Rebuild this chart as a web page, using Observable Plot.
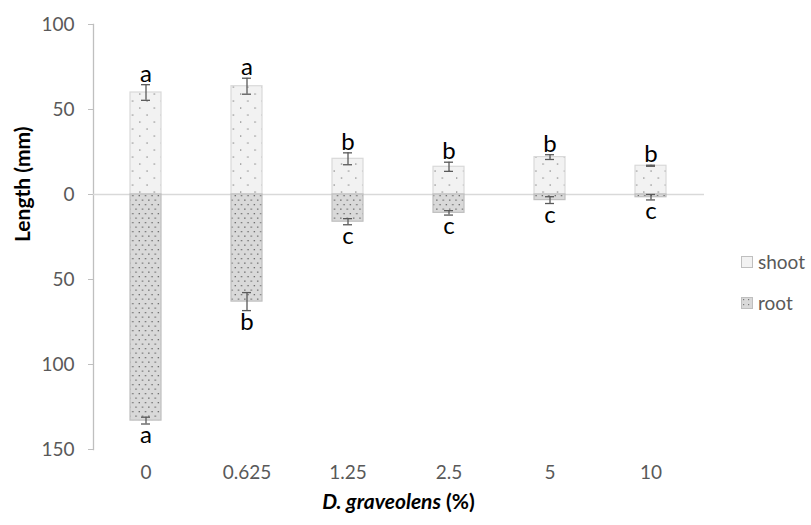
<!DOCTYPE html>
<html>
<head>
<meta charset="utf-8">
<script src="https://cdn.jsdelivr.net/npm/d3@7"></script>
<script src="https://cdn.jsdelivr.net/npm/@observablehq/plot@0.6"></script>
<style>
  html, body { margin: 0; padding: 0; background: #fff; }
  body { font-family: Lato, "Open Sans", sans-serif; }
  #wrap { position: relative; width: 811px; height: 525px; overflow: hidden; }
  #xlabel { position: absolute; left: 93px; width: 611px; top: 488px; text-align: center;
            font-weight: bold; font-size: 21px; color: #000; line-height: 26px; }
  #xlabel i { font-style: italic; }
  #legend { position: absolute; left: 741px; top: 241px; font-size: 19px; color: #595959; }
  .item { display: flex; align-items: center; height: 41px; }
  .item svg { margin-right: 5px; }
</style>
</head>
<body>
<svg width="0" height="0" style="position:absolute">
  <defs>
    <pattern id="shootPat" patternUnits="userSpaceOnUse" width="14.4" height="14">
      <rect width="14.4" height="14" fill="#f2f2f2"></rect>
      <rect x="2.4" y="2.4" width="1.3" height="1.3" fill="#8a8a8a"></rect>
      <rect x="9.6" y="9.4" width="1.3" height="1.3" fill="#8a8a8a"></rect>
    </pattern>
    <pattern id="rootPat" patternUnits="userSpaceOnUse" width="6.4" height="9">
      <rect width="6.4" height="9" fill="#d9d9d9"></rect>
      <rect x="1" y="1.5" width="1.3" height="1.3" fill="#666666"></rect>
      <rect x="4.2" y="6" width="1.3" height="1.3" fill="#666666"></rect>
    </pattern>
    <pattern id="rootLegPat" patternUnits="userSpaceOnUse" width="5" height="5">
      <rect width="5" height="5" fill="#d9d9d9"></rect>
      <rect x="2" y="2" width="1.2" height="1.2" fill="#7a7a7a"></rect>
    </pattern>
  </defs>
</svg>
<div id="wrap">
  <div id="chart"></div>
  <div id="xlabel"><i>D. graveolens</i> (%)</div>
  <div id="legend"></div>
</div>
<script>
// ---- data ----
const concentrations = ["0", "0.625", "1.25", "2.5", "5", "10"];
const shootMean = [60, 63.7, 21, 16.3, 22, 16.9];
const shootErr = [4.6, 4.7, 3.5, 2.7, 1.4, 0.3];
const shootLetters = ["a", "a", "b", "b", "b", "b"];
const rootMean = [133, 63, 16, 10.8, 3.3, 1.6];
const rootErr = [2, 5.3, 1.8, 1.3, 2, 1.6];
const rootLetters = ["a", "b", "c", "c", "c", "c"];
const yTicks = [100, 50, 0, -50, -100, -150];
const seriesNames = ["shoot", "root"];

const shoot = concentrations.map((c, i) => ({c, v: shootMean[i], e: shootErr[i], l: shootLetters[i]}));
const root = concentrations.map((c, i) => ({c, v: -rootMean[i], e: rootErr[i], l: rootLetters[i]}));

const errColor = "#595959";

const chart = Plot.plot({
  width: 811,
  height: 487,
  marginLeft: 93,
  marginRight: 107,
  marginTop: 24,
  marginBottom: 38,
  style: {fontFamily: "Lato, 'Open Sans', sans-serif", fontSize: "19px", color: "#595959", background: "#fff", overflow: "visible"},
  x: {domain: concentrations, paddingInner: 0.69, paddingOuter: 0.345, label: null},
  y: {domain: [-150, 100], label: null},
  marks: [
    Plot.frame({anchor: "left", stroke: "#bfbfbf", strokeWidth: 1.3}),
    Plot.ruleY([0], {stroke: "#d9d9d9", strokeWidth: 1.5}),
    Plot.axisY({ticks: yTicks, tickSize: 5, tickPadding: 14, tickFormat: d => Math.abs(d), stroke: "#bfbfbf", fill: "#595959", fontSize: 19, label: null}),
    Plot.axisX({tickSize: 0, tickPadding: 16, fill: "#595959", fontSize: 19, label: null}),
    Plot.barY(shoot, {x: "c", y1: 0, y2: "v", fill: "url(#shootPat)", stroke: "#d9d9d9", strokeWidth: 1.2}),
    Plot.barY(root, {x: "c", y1: 0, y2: "v", fill: "url(#rootPat)", stroke: "#bfbfbf", strokeWidth: 1.2}),
    Plot.ruleX(shoot, {x: "c", y1: d => d.v - d.e, y2: d => d.v + d.e, stroke: errColor, strokeWidth: 1.3}),
    Plot.tickY(shoot, {x: "c", y: d => d.v + d.e, insetLeft: 11, insetRight: 11, stroke: errColor, strokeWidth: 1.3}),
    Plot.tickY(shoot, {x: "c", y: d => d.v - d.e, insetLeft: 11, insetRight: 11, stroke: errColor, strokeWidth: 1.3}),
    Plot.ruleX(root, {x: "c", y1: d => d.v - d.e, y2: d => d.v + d.e, stroke: errColor, strokeWidth: 1.3}),
    Plot.tickY(root, {x: "c", y: d => d.v + d.e, insetLeft: 11, insetRight: 11, stroke: errColor, strokeWidth: 1.3}),
    Plot.tickY(root, {x: "c", y: d => d.v - d.e, insetLeft: 11, insetRight: 11, stroke: errColor, strokeWidth: 1.3}),
    Plot.text(shoot, {x: "c", y: d => d.v + d.e, text: "l", lineAnchor: "bottom", dy: -3, fontSize: 24, fill: "#000"}),
    Plot.text(root, {x: "c", y: d => d.v - d.e, text: "l", lineAnchor: "top", dy: 2, fontSize: 24, fill: "#000"}),
    Plot.text(["Length (mm)"], {frameAnchor: "left", rotate: -90, dx: -70, dy: 5, fontWeight: "bold", fontSize: 21, fill: "#000"})
  ]
});
document.getElementById("chart").appendChild(chart);

// legend
const legend = document.getElementById("legend");
const pats = {shoot: ["#f2f2f2", "#bfbfbf"], root: ["url(#rootLegPat)", "#bfbfbf"]};
seriesNames.forEach(name => {
  const item = document.createElement("div");
  item.className = "item";
  item.innerHTML = `<svg width="12" height="12"><rect x="0.5" y="0.5" width="11" height="11" fill="${pats[name][0]}" stroke="${pats[name][1]}"></rect></svg><span>${name}</span>`;
  legend.appendChild(item);
});
</script>
</body>
</html>
